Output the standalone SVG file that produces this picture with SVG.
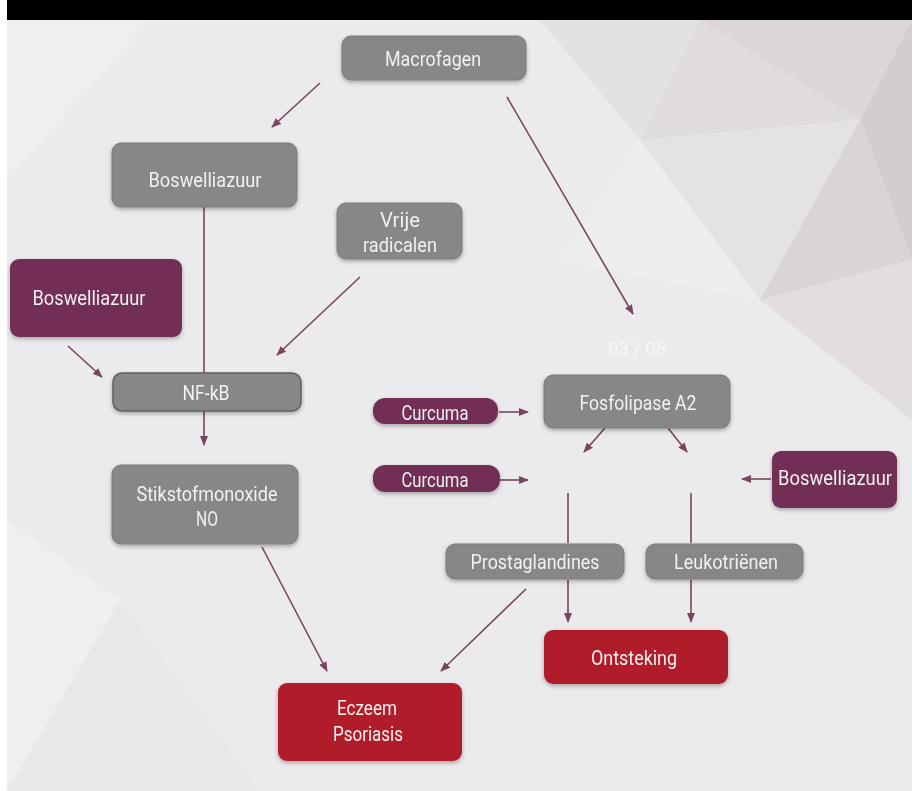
<svg xmlns="http://www.w3.org/2000/svg" width="912" height="791" viewBox="0 0 912 791">
<defs>
<marker id="ah" markerUnits="userSpaceOnUse" markerWidth="10" markerHeight="8" refX="9" refY="4" orient="auto">
<path d="M0,0 L10,4 L0,8 z" fill="#7a4560"/>
</marker>
<filter id="sh" x="-10%" y="-20%" width="120%" height="150%">
<feDropShadow dx="0" dy="2" stdDeviation="2" flood-color="#000" flood-opacity="0.3"/>
</filter>
</defs>
<style>
.g{fill:#878787;stroke:#7a7a7a;stroke-width:1}
.p{fill:#722f55}
.r{fill:#b01f2a}
text{font-family:Roboto,"Liberation Sans",sans-serif;font-size:21px;fill:#f1f1f1;text-anchor:middle}
.c line{stroke:#7a4560;stroke-width:1.6}
.a{marker-end:url(#ah)}
</style>
<rect x="0" y="0" width="912" height="791" fill="#ffffff"/>
<rect x="7" y="20" width="905" height="771" fill="#ebebed"/>
<g id="bg" opacity="0.8">
<polygon points="540,20 700,20 640,140" fill="#e2dfe1"/>
<polygon points="700,20 912,20 860,120" fill="#d9d2d5"/>
<polygon points="640,140 700,20 860,120" fill="#ded8db"/>
<polygon points="860,120 912,20 912,260" fill="#cfc6ca"/>
<polygon points="640,140 860,120 760,300" fill="#e4e0e2"/>
<polygon points="760,300 860,120 912,260" fill="#d6cfd2"/>
<polygon points="760,300 912,260 912,420" fill="#e0dbdd"/>
<polygon points="560,260 640,140 760,300" fill="#efeef0"/>
<polygon points="7,520 120,600 7,791" fill="#f1f1f2"/>
<polygon points="120,600 260,791 7,791" fill="#e8e8ea"/>
<polygon points="7,20 150,20 7,180" fill="#f0f0f1"/>
</g>
<rect x="7" y="0" width="905" height="20" fill="#000"/>
<text x="637" y="355" style="fill:#f7f7f7;font-size:19px" textLength="58" lengthAdjust="spacingAndGlyphs">03 / 06</text>
<g id="connectors" class="c">
<line class="a" x1="320" y1="83" x2="272" y2="127"/>
<line class="a" x1="507" y1="97" x2="633" y2="314"/>
<line x1="204" y1="207" x2="204" y2="373"/>
<line class="a" x1="360" y1="277" x2="277" y2="355"/>
<line class="a" x1="68" y1="346" x2="102" y2="377"/>
<line class="a" x1="204" y1="411" x2="204" y2="445"/>
<line class="a" x1="262" y1="547" x2="327" y2="671"/>
<line class="a" x1="499" y1="412" x2="528" y2="412"/>
<line class="a" x1="500" y1="480" x2="528" y2="480"/>
<line class="a" x1="605" y1="428" x2="584" y2="452"/>
<line class="a" x1="668" y1="428" x2="687" y2="452"/>
<line class="a" x1="771" y1="479" x2="742" y2="479"/>
<line x1="568" y1="493" x2="568" y2="543"/>
<line class="a" x1="568" y1="580" x2="568" y2="622"/>
<line x1="691" y1="493" x2="691" y2="543"/>
<line class="a" x1="691" y1="580" x2="691" y2="622"/>
<line class="a" x1="526" y1="589" x2="441" y2="671"/>
</g>
<g id="n-macrofagen" filter="url(#sh)"><rect class="g" x="342" y="36" width="184" height="44" rx="9"/><text x="433" y="66" textLength="96" lengthAdjust="spacingAndGlyphs">Macrofagen</text></g>
<g id="n-boswellia1" filter="url(#sh)"><rect class="g" x="112" y="143" width="185" height="64" rx="9"/><text x="205" y="187" textLength="113" lengthAdjust="spacingAndGlyphs">Boswelliazuur</text></g>
<g id="n-vrije" filter="url(#sh)"><rect class="g" x="337" y="203" width="125" height="56" rx="9"/><text x="400" y="227" textLength="40" lengthAdjust="spacingAndGlyphs">Vrije</text><text x="400" y="252" textLength="74" lengthAdjust="spacingAndGlyphs">radicalen</text></g>
<g id="n-boswellia2" filter="url(#sh)"><rect class="p" x="10" y="259" width="172" height="78" rx="9"/><text x="89" y="305" textLength="113" lengthAdjust="spacingAndGlyphs">Boswelliazuur</text></g>
<g id="n-nfkb" filter="url(#sh)"><rect x="113" y="373" width="188" height="38" rx="9" fill="#878787" stroke="#5e5e5e" stroke-width="1.5"/><text x="206" y="400" textLength="47" lengthAdjust="spacingAndGlyphs">NF-kB</text></g>
<g id="n-no" filter="url(#sh)"><rect class="g" x="112" y="465" width="186" height="79" rx="9"/><text x="207" y="501" textLength="141" lengthAdjust="spacingAndGlyphs">Stikstofmonoxide</text><text x="207" y="526" textLength="22" lengthAdjust="spacingAndGlyphs">NO</text></g>
<g id="n-curcuma1" filter="url(#sh)"><rect class="p" x="373" y="398" width="125" height="26" rx="12"/><text x="435" y="420" textLength="67" lengthAdjust="spacingAndGlyphs">Curcuma</text></g>
<g id="n-curcuma2" filter="url(#sh)"><rect class="p" x="373" y="465" width="127" height="27" rx="12"/><text x="435" y="487" textLength="67" lengthAdjust="spacingAndGlyphs">Curcuma</text></g>
<g id="n-fosfo" filter="url(#sh)"><rect class="g" x="544" y="375" width="186" height="53" rx="9"/><text x="638" y="410" textLength="117" lengthAdjust="spacingAndGlyphs">Fosfolipase A2</text></g>
<g id="n-boswellia3" filter="url(#sh)"><rect class="p" x="772" y="451" width="125" height="57" rx="9"/><text x="835" y="485" textLength="114" lengthAdjust="spacingAndGlyphs">Boswelliazuur</text></g>
<g id="n-prosta" filter="url(#sh)"><rect class="g" x="446" y="544" width="178" height="35" rx="9"/><text x="535" y="569" textLength="129" lengthAdjust="spacingAndGlyphs">Prostaglandines</text></g>
<g id="n-leuko" filter="url(#sh)"><rect class="g" x="646" y="544" width="157" height="35" rx="9"/><text x="726" y="569" textLength="104" lengthAdjust="spacingAndGlyphs">Leukotriënen</text></g>
<g id="n-ontsteking" filter="url(#sh)"><rect class="r" x="544" y="630" width="184" height="54" rx="9"/><text x="634" y="665" textLength="86" lengthAdjust="spacingAndGlyphs">Ontsteking</text></g>
<g id="n-eczeem" filter="url(#sh)"><rect class="r" x="278" y="683" width="184" height="78" rx="9"/><text x="367" y="715" textLength="60" lengthAdjust="spacingAndGlyphs">Eczeem</text><text x="368" y="741" textLength="70" lengthAdjust="spacingAndGlyphs">Psoriasis</text></g>
</svg>
